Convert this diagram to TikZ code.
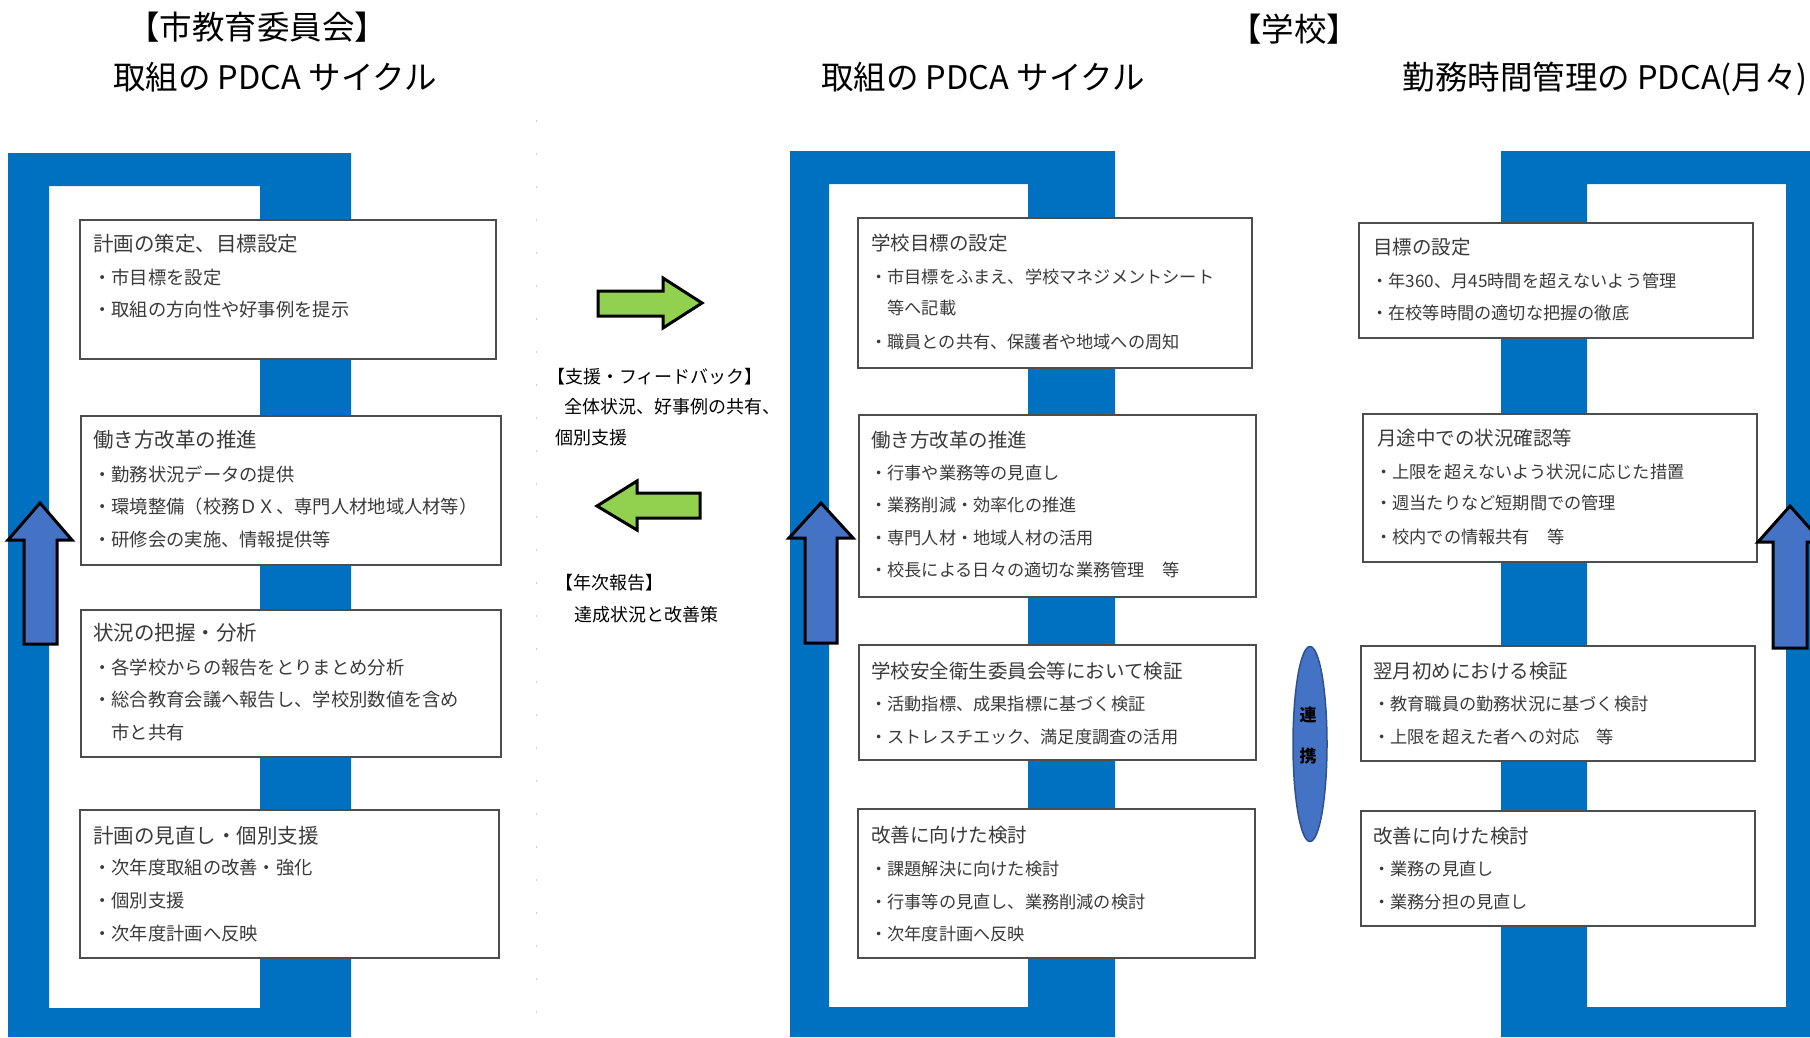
\documentclass[tikz,border=0pt]{standalone}
\usepackage{fontspec}
\setmainfont{Noto Sans CJK JP}
\usetikzlibrary{shapes.geometric}
\definecolor{frameblue}{HTML}{0070C0}
\definecolor{arrowblue}{HTML}{4472C4}
\definecolor{ellline}{HTML}{2F528F}
\definecolor{arrowgreen}{HTML}{92D050}
\definecolor{txt}{HTML}{3A3A3A}
\definecolor{boxline}{HTML}{4D4D4D}
\tikzset{
  box/.style={rectangle, draw=boxline, line width=1.5pt, fill=white, inner sep=0pt},
  ltitle/.style={anchor=west, inner sep=0pt, text=txt, text height=18pt, text depth=2.5pt, font=\fontsize{20.5}{22}\selectfont},
  lbul/.style={anchor=west, inner sep=0pt, text=txt, text height=16.1pt, text depth=2.2pt, font=\fontsize{18.3}{20}\selectfont},
  mtitle/.style={anchor=west, inner sep=0pt, text=txt, text height=17.2pt, text depth=2.3pt, font=\fontsize{19.5}{21}\selectfont},
  mbul/.style={anchor=west, inner sep=0pt, text=txt, text height=15.1pt, text depth=2.1pt, font=\fontsize{17.2}{19}\selectfont},
  midtxt/.style={anchor=west, inner sep=0pt, text=black, text height=15.8pt, text depth=2.2pt, font=\fontsize{18}{20}\selectfont},
  head/.style={inner sep=0pt, text=black, text height=28.6pt, text depth=3.9pt, font=\fontsize{32.5}{34}\selectfont},
  uparrow/.style={draw=black, line width=3pt, fill=arrowblue, line join=miter},
  greenarrow/.style={draw=black, line width=3pt, fill=arrowgreen, line join=miter},
  framefill/.style={fill=frameblue},
}
\begin{document}
\begin{tikzpicture}[x=1pt,y=-1pt]
\useasboundingbox (0,0) rectangle (1810,1037);
\fill[white] (0,0) rectangle (1810,1037);

% faint dotted separator
\coordinate (dotTop) at (536,120);
\coordinate (dotBot) at (536,1037);
\draw[gray!35, line width=1pt, dash pattern=on 1.5pt off 31.5pt] (dotTop) -- (dotBot);

% blue frames
\fill[framefill, even odd rule] (8,153) rectangle (351,1037) (49,186) rectangle (260,1008);
\fill[framefill, even odd rule] (790,151) rectangle (1115,1037) (829,184) rectangle (1028,1007);
\fill[framefill, even odd rule] (1501,151) rectangle (1825,1037) (1587,184) rectangle (1786,1007);

% headings
\node[head] (hL1) at (257,27) {【市教育委員会】};
\node[head] (hL2) at (275,77) {取組の PDCA サイクル};
\node[head] (hS) at (1294,29) {【学校】};
\node[head] (hM) at (983,77) {取組の PDCA サイクル};
\node[head, anchor=east] (hR) at (1808,77) {勤務時間管理の PDCA(月々)};

% left column boxes
\node[box, minimum width=416, minimum height=139] (L1) at (288,289.5) {};
\node[box, minimum width=420, minimum height=149] (L2) at (291,490.5) {};
\node[box, minimum width=420, minimum height=147] (L3) at (291,683.5) {};
\node[box, minimum width=419, minimum height=148] (L4) at (289.5,884) {};

\node[ltitle] (L1t) at (93,244) {計画の策定、目標設定};
\node[lbul] (L1a) at (93,278) {・市目標を設定};
\node[lbul] (L1b) at (93,310) {・取組の方向性や好事例を提示};

\node[ltitle] (L2t) at (93,440) {働き方改革の推進};
\node[lbul] (L2a) at (93,475) {・勤務状況データの提供};
\node[lbul] (L2b) at (93,507) {・環境整備（校務ＤＸ、専門人材地域人材等）};
\node[lbul] (L2c) at (93,540) {・研修会の実施、情報提供等};

\node[ltitle] (L3t) at (93,633) {状況の把握・分析};
\node[lbul] (L3a) at (93,668) {・各学校からの報告をとりまとめ分析};
\node[lbul] (L3b) at (93,700) {・総合教育会議へ報告し、学校別数値を含め};
\node[lbul] (L3c) at (111.3,733) {市と共有};

\node[ltitle] (L4t) at (93,836) {計画の見直し・個別支援};
\node[lbul] (L4a) at (93,868) {・次年度取組の改善・強化};
\node[lbul] (L4b) at (93,901) {・個別支援};
\node[lbul] (L4c) at (93,934) {・次年度計画へ反映};

% middle column boxes
\node[box, minimum width=394, minimum height=150] (M1) at (1055,293) {};
\node[box, minimum width=397, minimum height=182] (M2) at (1057.5,506) {};
\node[box, minimum width=397, minimum height=115] (M3) at (1057.5,702.5) {};
\node[box, minimum width=397, minimum height=149] (M4) at (1056.5,883.5) {};

\node[mtitle] (M1t) at (871,243) {学校目標の設定};
\node[mbul] (M1a) at (870,277) {・市目標をふまえ、学校マネジメントシート};
\node[mbul] (M1b) at (887.2,308) {等へ記載};
\node[mbul] (M1c) at (870,342) {・職員との共有、保護者や地域への周知};

\node[mtitle] (M2t) at (871,440) {働き方改革の推進};
\node[mbul] (M2a) at (870,473) {・行事や業務等の見直し};
\node[mbul] (M2b) at (870,505) {・業務削減・効率化の推進};
\node[mbul] (M2c) at (870,538) {・専門人材・地域人材の活用};
\node[mbul] (M2d) at (870,570) {・校長による日々の適切な業務管理　等};

\node[mtitle] (M3t) at (871,671) {学校安全衛生委員会等において検証};
\node[mbul] (M3a) at (870,704) {・活動指標、成果指標に基づく検証};
\node[mbul] (M3b) at (870,737) {・ストレスチエック、満足度調査の活用};

\node[mtitle] (M4t) at (871,835) {改善に向けた検討};
\node[mbul] (M4a) at (870,869) {・課題解決に向けた検討};
\node[mbul] (M4b) at (870,902) {・行事等の見直し、業務削減の検討};
\node[mbul] (M4c) at (870,934) {・次年度計画へ反映};

% right column boxes
\node[box, minimum width=394, minimum height=115] (R1) at (1556,280.5) {};
\node[box, minimum width=394, minimum height=148] (R2) at (1560,488) {};
\node[box, minimum width=394, minimum height=115] (R3) at (1558,703.5) {};
\node[box, minimum width=394, minimum height=115] (R4) at (1558,868.5) {};

\node[mtitle] (R1t) at (1373,247) {目標の設定};
\node[mbul] (R1a) at (1371,281) {・年360、月45時間を超えないよう管理};
\node[mbul] (R1b) at (1371,313) {・在校等時間の適切な把握の徹底};

\node[mtitle] (R2t) at (1377,438) {月途中での状況確認等};
\node[mbul] (R2a) at (1375,472) {・上限を超えないよう状況に応じた措置};
\node[mbul] (R2b) at (1375,503) {・週当たりなど短期間での管理};
\node[mbul] (R2c) at (1375,537) {・校内での情報共有　等};

\node[mtitle] (R3t) at (1373,671) {翌月初めにおける検証};
\node[mbul] (R3a) at (1373,704) {・教育職員の勤務状況に基づく検討};
\node[mbul] (R3b) at (1373,737) {・上限を超えた者への対応　等};

\node[mtitle] (R4t) at (1373,836) {改善に向けた検討};
\node[mbul] (R4a) at (1373,869) {・業務の見直し};
\node[mbul] (R4b) at (1373,902) {・業務分担の見直し};

% up arrows
\draw[uparrow] (40,503) -- (72,540) -- (57,540) -- (57,644) -- (24,644) -- (24,540) -- (8,540) -- cycle;
\draw[uparrow] (821,503) -- (853,538) -- (837,538) -- (837,643) -- (805,643) -- (805,538) -- (789,538) -- cycle;
\draw[uparrow] (1790,506) -- (1822,542) -- (1807,542) -- (1807,648) -- (1773,648) -- (1773,542) -- (1758,542) -- cycle;

% green arrows
\draw[greenarrow] (598,291) -- (663,291) -- (663,278) -- (702,303) -- (663,328) -- (663,316) -- (598,316) -- cycle;
\draw[greenarrow] (597,506) -- (637,481) -- (637,493) -- (700,493) -- (700,518) -- (637,518) -- (637,530) -- cycle;

% middle texts
\node[midtxt] (fb1) at (547,377) {【支援・フィードバック】};
\node[midtxt] (fb2) at (564,407) {全体状況、好事例の共有、};
\node[midtxt] (fb3) at (555,438) {個別支援};
\node[midtxt] (ar1) at (555,583) {【年次報告】};
\node[midtxt] (ar2) at (574,615) {達成状況と改善策};

% link ellipse
\node[ellipse, draw=ellline, line width=1.5pt, fill=arrowblue, minimum width=34, minimum height=195, inner sep=0pt] (link) at (1310,744) {};
\node[inner sep=0pt, text height=15pt, text depth=2pt, font=\fontsize{17}{18}\selectfont\bfseries] (lk1) at (1308,715) {連};
\node[inner sep=0pt, text height=15pt, text depth=2pt, font=\fontsize{17}{18}\selectfont\bfseries] (lk2) at (1308,756) {携};
\end{tikzpicture}
\end{document}
